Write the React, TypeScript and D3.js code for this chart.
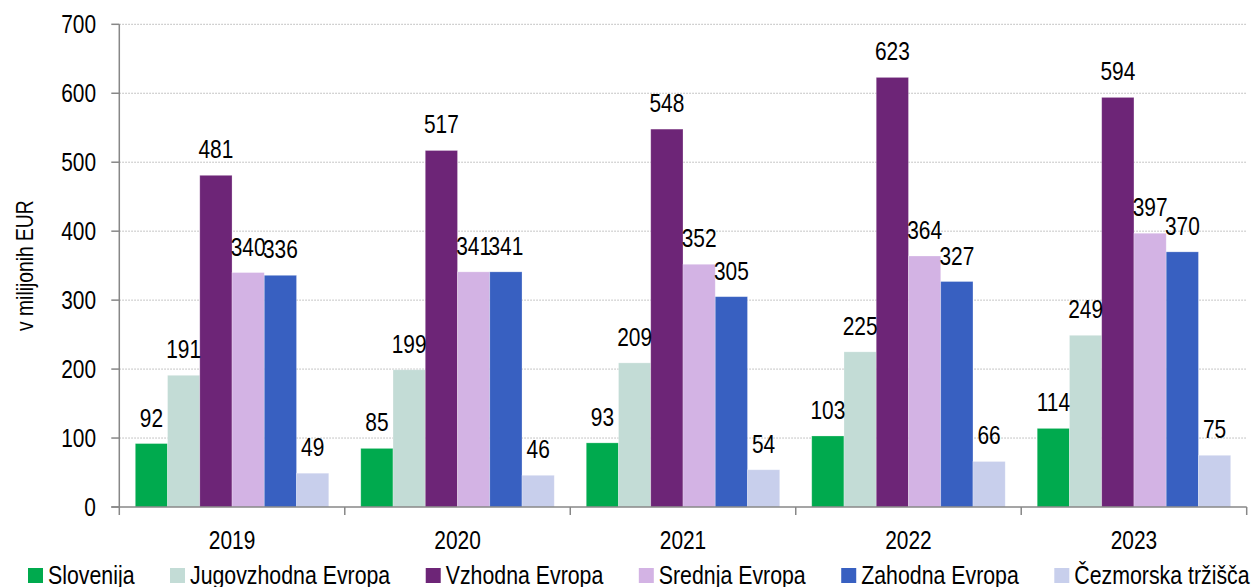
import { useLayoutEffect, useRef, useState } from "react";
import * as d3 from "d3";

const years = ["2019", "2020", "2021", "2022", "2023"];
const seriesNames = [
  "Slovenija",
  "Jugovzhodna Evropa",
  "Vzhodna Evropa",
  "Srednja Evropa",
  "Zahodna Evropa",
  "Čezmorska tržišča",
];
const seriesColors = ["#00aa4e", "#c3dcd6", "#6d2577", "#d3b3e4", "#3860c1", "#c8cfec"];

const slovenija = [92, 85, 93, 103, 114];
const jugovzhodna = [191, 199, 209, 225, 249];
const vzhodna = [481, 517, 548, 623, 594];
const srednja = [340, 341, 352, 364, 397];
const zahodna = [336, 341, 305, 327, 370];
const cezmorska = [49, 46, 54, 66, 75];
const seriesValues = [slovenija, jugovzhodna, vzhodna, srednja, zahodna, cezmorska];

const yTicks = [0, 100, 200, 300, 400, 500, 600, 700];

// no narrow font installed, so squeeze Liberation Sans horizontally
const FONT = '"Liberation Sans", Arial, sans-serif';
const SQUEEZE = 0.82;
const W = 1251;
const H = 587;
const margin = { left: 119.3, right: 4.3, top: 24.3, bottom: 80 };

type NTextProps = {
  x: number;
  y: number;
  size: number;
  anchor?: "start" | "middle" | "end";
  rotate?: number;
  children: React.ReactNode;
  textRef?: (el: SVGTextElement | null) => void;
};

function NText({ x, y, size, anchor = "start", rotate = 0, children, textRef }: NTextProps) {
  const rot = rotate ? ` rotate(${rotate})` : "";
  return (
    <text
      ref={textRef}
      transform={`translate(${x},${y})${rot} scale(${SQUEEZE},1)`}
      textAnchor={anchor}
      fontSize={size}
      fill="#000"
    >
      {children}
    </text>
  );
}

export default function App() {
  const legendRefs = useRef<(SVGTextElement | null)[]>([]);
  const [legendWidths, setLegendWidths] = useState<number[]>(seriesNames.map(() => 150));

  useLayoutEffect(() => {
    const w = legendRefs.current.map((t) => (t ? t.getComputedTextLength() * SQUEEZE : 150));
    setLegendWidths(w);
  }, []);

  const plotBottom = 507;
  const x0 = d3.scaleBand<string>().domain(years).range([margin.left, W - margin.right]);
  const x1 = d3
    .scaleBand<number>()
    .domain(d3.range(seriesNames.length))
    .range([16, x0.bandwidth() - 16]);
  const y = d3.scaleLinear().domain([0, 700]).range([plotBottom, margin.top]);

  // legend layout
  const legendX: number[] = [];
  let cx = 28;
  legendWidths.forEach((w) => {
    legendX.push(cx);
    cx += 15 + 5 + w + 35.5;
  });

  const xEnd = W - margin.right;
  const boundaries = d3.range(years.length + 1).map((i) => margin.left + i * x0.step());

  return (
    <svg
      width={W}
      height={H}
      style={{ position: "absolute", left: 0, top: 0, background: "#fff" }}
      fontFamily={FONT}
    >
      {/* gridlines */}
      {yTicks.slice(1).map((t) => (
        <line
          key={"g" + t}
          x1={margin.left}
          x2={xEnd}
          y1={y(t)}
          y2={y(t)}
          stroke="#b4b4b4"
          strokeWidth={1}
          strokeDasharray="1.5,1.5"
        />
      ))}

      {/* bars */}
      {years.map((yr, i) => (
        <g key={yr} transform={`translate(${x0(yr)},0)`}>
          {seriesValues.map((vals, s) => (
            <rect
              key={s}
              x={x1(s)}
              y={y(vals[i])}
              width={x1.bandwidth()}
              height={plotBottom - y(vals[i])}
              fill={seriesColors[s]}
              stroke="#ffffff"
              strokeOpacity={0.35}
              strokeWidth={0.75}
            />
          ))}
          {seriesValues.map((vals, s) => (
            <NText
              key={"l" + s}
              x={(x1(s) ?? 0) + x1.bandwidth() / 2}
              y={y(vals[i]) - 17}
              anchor="middle"
              size={25.5}
            >
              {vals[i]}
            </NText>
          ))}
        </g>
      ))}

      {/* y axis */}
      <line x1={margin.left} x2={margin.left} y1={margin.top} y2={plotBottom} stroke="#878787" strokeWidth={1.5} />
      {yTicks.map((t) => (
        <g key={"t" + t}>
          <line x1={margin.left - 8} x2={margin.left} y1={y(t)} y2={y(t)} stroke="#878787" strokeWidth={1.5} />
          <NText x={96} y={y(t) + 9} anchor="end" size={25.5}>
            {t}
          </NText>
        </g>
      ))}

      {/* x axis */}
      <line x1={margin.left - 8} x2={xEnd} y1={plotBottom} y2={plotBottom} stroke="#878787" strokeWidth={1.5} />
      {boundaries.map((bx, i) => (
        <line key={"b" + i} x1={bx} x2={bx} y1={plotBottom} y2={plotBottom + 8} stroke="#878787" strokeWidth={1.5} />
      ))}
      {years.map((yr) => (
        <NText key={"y" + yr} x={(x0(yr) ?? 0) + x0.bandwidth() / 2} y={548.5} anchor="middle" size={25.5}>
          {yr}
        </NText>
      ))}

      {/* y axis title */}
      <text
        transform={`translate(33,${(margin.top + plotBottom) / 2}) rotate(-90) scale(${SQUEEZE},1)`}
        textAnchor="middle"
        fontSize={23.5}
        fill="#000"
      >
        v milijonih EUR
      </text>

      {/* legend */}
      {seriesNames.map((name, s) => (
        <g key={"lg" + s} transform={`translate(${legendX[s]},0)`}>
          <rect x={0} y={568} width={15} height={15} fill={seriesColors[s]} />
          <NText
            textRef={(el) => {
              legendRefs.current[s] = el;
            }}
            x={20}
            y={583.5}
            size={26}
          >
            {name}
          </NText>
        </g>
      ))}
    </svg>
  );
}
